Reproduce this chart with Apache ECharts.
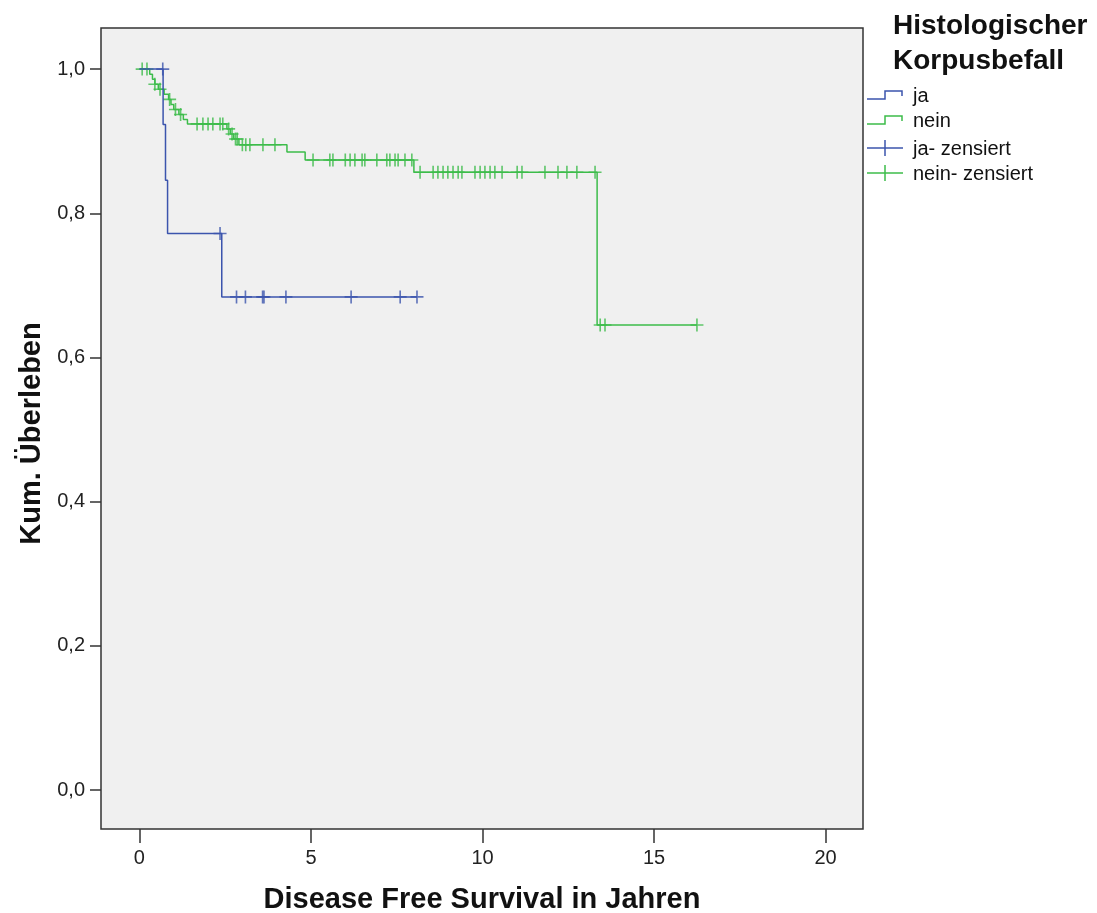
<!DOCTYPE html>
<html>
<head>
<meta charset="utf-8">
<script src="https://cdn.jsdelivr.net/npm/echarts@6/dist/echarts.min.js"></script>
<style>
  html, body { margin: 0; padding: 0; background: #fff; }
  #chart { width: 1097px; height: 913px; }
</style>
</head>
<body>
<div id="chart"></div>
<script>
// Kaplan-Meier, Disease Free Survival by "Histologischer Korpusbefall"
const BLUE = '#3b54ad'
const GREEN = '#3cbc4a'
const FONT = 'Arial, "Liberation Sans", sans-serif'

const xTicks = [0, 5, 10, 15, 20]
const yTicks = [0, 0.2, 0.4, 0.6, 0.8, 1.0]

// step points [time, survival] - value holds until next time
const jaSteps = [
  [0, 1.0], [0.69, 0.923], [0.76, 0.846], [0.82, 0.772], [2.40, 0.684], [8.09, 0.684],
]
const jaCensored = [
  [0.68, 1.0], [2.35, 0.772], [2.83, 0.684], [3.09, 0.684], [3.59, 0.684], [3.63, 0.684],
  [4.27, 0.684], [6.17, 0.684], [7.60, 0.684], [8.09, 0.684],
]

const neinSteps = [
  [0, 1.0], [0.30, 0.993], [0.38, 0.986], [0.45, 0.979], [0.55, 0.972], [0.72, 0.965],
  [0.85, 0.958], [0.92, 0.951], [1.00, 0.944], [1.15, 0.937], [1.28, 0.930], [1.40, 0.924],
  [2.55, 0.917], [2.65, 0.910], [2.75, 0.903], [2.90, 0.895], [4.30, 0.885], [4.83, 0.874],
  [8.00, 0.857], [13.34, 0.645], [16.25, 0.645],
]
const neinCensored = [
  [0.08, 1.0], [0.22, 1.0], [0.45, 0.979], [0.60, 0.972], [0.88, 0.958], [1.05, 0.944],
  [1.20, 0.937],
  [1.68, 0.924], [1.85, 0.924], [2.00, 0.924], [2.14, 0.924], [2.35, 0.924], [2.43, 0.924],
  [2.60, 0.917], [2.70, 0.910], [2.80, 0.903], [2.85, 0.903],
  [3.00, 0.895], [3.10, 0.895], [3.22, 0.895], [3.60, 0.895], [3.95, 0.895],
  [5.06, 0.874], [5.55, 0.874], [5.64, 0.874], [6.00, 0.874], [6.14, 0.874], [6.28, 0.874],
  [6.49, 0.874], [6.57, 0.874], [6.92, 0.874], [7.21, 0.874], [7.30, 0.874], [7.45, 0.874],
  [7.54, 0.874], [7.74, 0.874], [7.94, 0.874],
  [8.18, 0.857], [8.56, 0.857], [8.70, 0.857], [8.85, 0.857], [8.99, 0.857], [9.14, 0.857],
  [9.29, 0.857], [9.40, 0.857], [9.78, 0.857], [9.93, 0.857], [10.07, 0.857], [10.22, 0.857],
  [10.36, 0.857], [10.57, 0.857], [11.01, 0.857], [11.15, 0.857], [11.82, 0.857], [12.20, 0.857],
  [12.46, 0.857], [12.75, 0.857], [13.28, 0.857],
  [13.43, 0.645], [13.57, 0.645], [16.25, 0.645],
]

const PLUS = 'path://M0,5.25h12v1.5h-12z M5.25,0h1.5v12h-1.5z'

function stepSeries(name, data, color) {
  return {
    name,
    type: 'line',
    step: 'end',
    data,
    symbol: 'none',
    lineStyle: { color, width: 1.5 },
    animation: false,
  }
}

function censorSeries(name, data, color) {
  return {
    name,
    type: 'scatter',
    data,
    symbol: PLUS,
    symbolSize: 13,
    itemStyle: { color },
    animation: false,
  }
}

function legendItem(y, label, color, censored) {
  const icon = censored
    ? [
        { type: 'line', shape: { x1: 867, y1: y, x2: 903, y2: y }, style: { stroke: color, lineWidth: 1.5 } },
        { type: 'line', shape: { x1: 885, y1: y - 8, x2: 885, y2: y + 8 }, style: { stroke: color, lineWidth: 1.5 } },
      ]
    : [
        {
          type: 'polyline',
          shape: { points: [[867, y + 4], [885, y + 4], [885, y - 4], [902, y - 4], [902, y + 1]] },
          style: { stroke: color, lineWidth: 1.5, fill: null },
        },
      ]
  return icon.concat({
    type: 'text',
    left: 913,
    top: y - 9,
    style: { text: label, font: `20px ${FONT}`, fill: '#111' },
  })
}

const chart = echarts.init(document.getElementById('chart'), null, { renderer: 'canvas' })

chart.setOption({
  backgroundColor: '#fff',
  animation: false,
  grid: {
    left: 101,
    top: 28,
    right: 234,
    bottom: 84,
    outerBoundsMode: 'none',
    show: true,
    backgroundColor: '#f0f0f0',
    borderColor: '#333',
    borderWidth: 1.5,
  },
  xAxis: {
    type: 'value',
    min: -1.12,
    max: 21.09,
    name: 'Disease Free Survival in Jahren',
    nameLocation: 'middle',
    nameGap: 56,
    nameTextStyle: { fontFamily: FONT, fontSize: 29, fontWeight: 'bold', color: '#111' },
    axisLine: { show: false, onZero: false },
    splitLine: { show: false },
    axisTick: { show: true, customValues: xTicks, length: 14, lineStyle: { color: '#333', width: 1.5 } },
    axisLabel: { customValues: xTicks, margin: 19, fontFamily: FONT, fontSize: 20, color: '#222' },
  },
  yAxis: {
    type: 'value',
    min: -0.054,
    max: 1.057,
    name: 'Kum. Überleben',
    nameLocation: 'middle',
    nameGap: 49,
    nameRotate: 90,
    nameTextStyle: { fontFamily: FONT, fontSize: 29, fontWeight: 'bold', color: '#111', padding: [0, 10, 0, 0] },
    axisLine: { show: false, onZero: false },
    splitLine: { show: false },
    axisTick: { show: true, customValues: yTicks, length: 11, lineStyle: { color: '#333', width: 1.5 } },
    axisLabel: {
      customValues: yTicks,
      margin: 16,
      fontFamily: FONT,
      fontSize: 20,
      color: '#222',
      formatter: v => v.toFixed(1).replace('.', ','),
    },
  },
  series: [
    stepSeries('nein', neinSteps, GREEN),
    censorSeries('nein- zensiert', neinCensored, GREEN),
    stepSeries('ja', jaSteps, BLUE),
    censorSeries('ja- zensiert', jaCensored, BLUE),
  ],
  graphic: [
    { type: 'text', left: 893, top: 12, style: { text: 'Histologischer', font: `bold 28px ${FONT}`, fill: '#111' } },
    { type: 'text', left: 893, top: 47, style: { text: 'Korpusbefall', font: `bold 28px ${FONT}`, fill: '#111' } },
    ...legendItem(95, 'ja', BLUE, false),
    ...legendItem(120, 'nein', GREEN, false),
    ...legendItem(148, 'ja- zensiert', BLUE, true),
    ...legendItem(173, 'nein- zensiert', GREEN, true),
  ],
})
</script>
</body>
</html>
